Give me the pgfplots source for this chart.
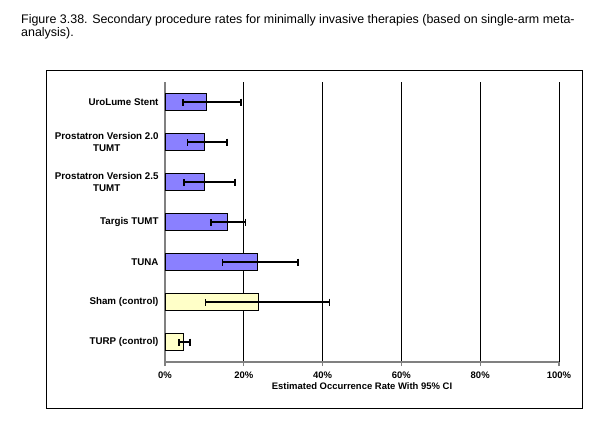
\documentclass[border=0pt]{standalone}
\usepackage{pgfplots}
\pgfplotsset{compat=1.18}
\usepackage{fontspec}
\setmainfont{Liberation Sans}
\definecolor{barblue}{RGB}{138,128,255}
\definecolor{baryellow}{RGB}{255,255,200}
\definecolor{axgray}{RGB}{128,128,128}
\begin{document}
\begin{tikzpicture}
\path[use as bounding box] (0bp,0bp) rectangle (607bp,-427bp);
\fill[white] (0bp,0bp) rectangle (607bp,-427bp);
\node[anchor=north west, inner sep=0pt, align=left, font=\fontsize{12.5}{13.2}\selectfont] at (21bp,-14bp)
 {Figure 3.38. Secondary procedure rates for minimally invasive therapies (based on single-arm meta-\\analysis).};
\draw[black, line width=1bp] (46bp,-70bp) rectangle (582bp,-408bp);
\begin{axis}[
  at={(165bp,-362bp)}, anchor=south west,
  scale only axis, width=394bp, height=280bp,
  xbar, bar width=16.5bp, bar shift=0pt,
  xmin=0, xmax=100, ymin=-0.5, ymax=6.5,
  y dir=reverse,
  axis x line*=bottom, axis y line*=left,
  axis line style={axgray, line width=1.6bp, -},
  xtick={0,20,40,60,80,100},
  xticklabels={0\%,20\%,40\%,60\%,80\%,100\%},
  xtick align=outside, major tick length=4bp,
  xtick style={axgray, line width=1.2bp},
  ytick={0,1,2,3,4,5,6},
  yticklabels={UroLume Stent,{Prostatron Version 2.0\\TUMT},{Prostatron Version 2.5\\TUMT},Targis TUMT,TUNA,Sham (control),TURP (control)},
  ytick style={draw=none},
  yticklabel style={align=center, font=\fontsize{9.8}{12.5}\selectfont\bfseries, xshift=1bp},
  xticklabel style={font=\fontsize{9.5}{10}\selectfont\bfseries, yshift=-2bp},
  xlabel={Estimated Occurrence Rate With 95\% CI},
  xlabel style={font=\fontsize{9.5}{10}\selectfont\bfseries, yshift=2bp},
  xmajorgrids, grid style={black, line width=0.8bp},
  clip=false,
  error bars/error bar style={black, line width=1.6bp},
  error bars/error mark options={rotate=90, mark size=3.5bp, line width=1.6bp},
]
\addplot[fill=barblue, draw=black, line width=0.6bp,
  error bars/.cd, x dir=both, x explicit]
  coordinates {
  (10.6,0) -= (6.1,0) += (8.7,0)
  (10.0,1) -= (4.3,0) += (5.8,0)
  (10.0,2) -= (5.2,0) += (7.8,0)
  (15.8,3) -= (4.1,0) += (4.6,0)
  (23.3,4) -= (8.7,0) += (10.5,0)
  };
\addplot[fill=baryellow, draw=black, line width=0.6bp,
  error bars/.cd, x dir=both, x explicit]
  coordinates {
  (23.7,5) -= (13.4,0) += (18.0,0)
  (4.6,6) -= (1.1,0) += (1.8,0)
  };
\end{axis}
\end{tikzpicture}
\end{document}
